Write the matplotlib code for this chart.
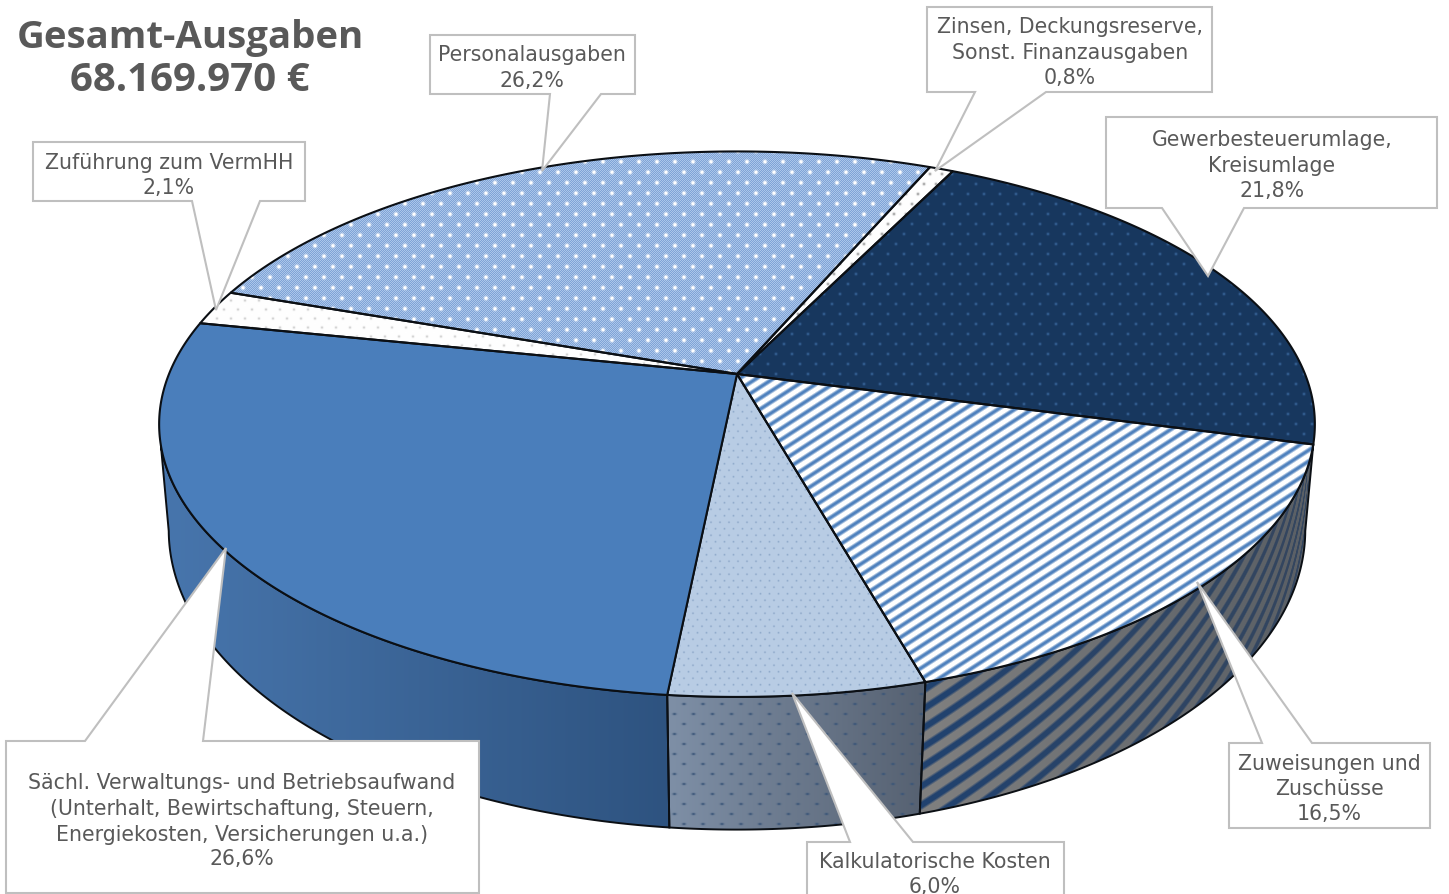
import numpy as np
import matplotlib
matplotlib.use("Agg")
import matplotlib.pyplot as plt
from matplotlib.patches import Polygon

# ---- data ----
title_lines = ["Gesamt-Ausgaben", "68.169.970 €"]
categories = ["Zinsen, Deckungsreserve,\nSonst. Finanzausgaben",
              "Gewerbesteuerumlage,\nKreisumlage",
              "Zuweisungen und\nZuschüsse",
              "Kalkulatorische Kosten",
              "Sächl. Verwaltungs- und Betriebsaufwand\n(Unterhalt, Bewirtschaftung, Steuern,\nEnergiekosten, Versicherungen u.a.)",
              "Zuführung zum VermHH",
              "Personalausgaben"]
shares = [0.8, 21.8, 16.5, 6.0, 26.6, 2.1, 26.2]
share_labels = ["0,8%", "21,8%", "16,5%", "6,0%", "26,6%", "2,1%", "26,2%"]

# ---- layout ----
W, H = 1449, 895
START = 66.6
TOP = dict(cx=737.0, cy=375.0, A=568.0, B=263.5, k=0.184)
BOT = dict(cx=737.0, cy=480.0, A=560.0, B=291.0, k=0.17)
EDGE = "#0b0f14"
GREY = "#BFBFBF"
TXT = "#595959"
# box (x0,y0,x1,y1), pointer base x0,x1, tip, text centre x, baselines
CALLOUTS = [
    ((927, 8, 1212, 93), (975, 1046), (935, 172), 1070, (33, 59, 84)),
    ((1106, 118, 1437, 209), (1162, 1244), (1208, 277), 1272, (146, 172, 197)),
    ((1229, 744, 1430, 829), (1262, 1312), (1197, 583), 1329, (770, 795, 820)),
    ((807, 843, 1064, 905), (850, 913), (792, 694), 935, (868, 893)),
    ((6, 742, 479, 894), (85, 203), (226, 549), 242, (789, 815, 841, 865)),
    ((33, 143, 305, 202), (192, 260), (216, 311), 169, (169, 194)),
    ((430, 36, 635, 95), (550, 601), (542, 172), 532, (61, 87)),
]

fig = plt.figure(figsize=(W / 100, H / 100), dpi=100, facecolor="white")
ax = fig.add_axes([0, 0, 1, 1])
ax.set_xlim(0, W)
ax.set_ylim(H, 0)
ax.axis("off")

# ---- geometry: a circle seen in perspective ----
def project(deg, p):
    t = np.radians(deg)
    X, Y = np.cos(t), np.sin(t)
    w = 1 + p["k"] * Y
    return np.column_stack([p["cx"] + p["A"] * X / w, p["cy"] - p["B"] * Y / w])

def arc(a0, a1, p, n=160):
    return project(np.linspace(a0, a1, n), p)

edges = START - np.cumsum([0] + [s * 3.6 for s in shares])

# ---- textures ----
PX, PY = np.meshgrid(np.arange(W) + 0.5, np.arange(H) + 0.5)

def rgb(c):
    return np.array(matplotlib.colors.to_rgb(c))

def flat(c):
    return np.ones((H, W, 3)) * rgb(c)

def mix(a, b, t):
    t = t[..., None]
    return a * (1 - t) + b * t

def dot_field(px, py, r, stretch=1.0):
    row = np.floor(PY / py)
    xo = PX + (row % 2) * px / 2
    dx = (xo + px / 2) % px - px / 2
    dy = (PY % py) - py / 2
    return np.exp(-((dx / stretch) ** 2 + dy ** 2) / (2 * r ** 2))

def dotted(base, dot, px, py, r, strength=1.0):
    return mix(flat(base), flat(dot), np.clip(dot_field(px, py, r) * strength, 0, 1))

def h_gradient(c0, c1, x0, x1):
    t = np.clip((PX - x0) / (x1 - x0), 0, 1)
    return mix(flat(c0), flat(c1), t)

def personal_tex():
    weave = ((np.floor(PX) + np.floor(PY)) % 2)
    b = mix(flat("#7FA3D6"), flat("#ABC6EA"), weave)
    return mix(b, flat("#FFFFFF"), np.clip(dot_field(18, 10.5, 1.3) * 1.4, 0, 1))

def stripes_top():
    ph = PX / 17.0 + PY / 11.0
    t = np.clip(((1 + np.cos(2 * np.pi * ph)) / 2) * 1.5 - 0.45, 0, 1)
    return mix(flat("#FFFFFF"), flat("#4F81BD"), t)

def stripes_wall():
    r = np.clip((PX - 736) / 572, -0.999, 0.999)
    u = 572 * np.arcsin(r)
    ytop = 425 + 272 * np.sqrt(np.clip(1 - ((PX - 736) / 578) ** 2, 0, 1))
    ph = u / 42 + (PY - ytop) / 19
    t = np.clip(((1 + np.cos(2 * np.pi * ph)) / 2) * 2.2 - 0.85, 0, 1)
    g = h_gradient("#7F7F7F", "#5B6066", 930, 1290)
    s = h_gradient("#21426F", "#34465F", 930, 1290)
    return mix(g, s, t)

def kalk_wall():
    g = h_gradient("#7E8FA6", "#566171", 670, 925)
    return mix(g, flat("#3A5578"), np.clip(dot_field(19, 10, 0.8, 1.7), 0, 1))

tops = [dotted("#FFFFFF", "#9A9A9A", 12, 10, 1.0),
        dotted("#17375E", "#3F6EA6", 16, 10, 1.0, 0.8),
        stripes_top(),
        dotted("#B9CDE5", "#86A2C4", 9, 6.5, 0.7, 0.8),
        None,
        dotted("#FFFFFF", "#CFCFCF", 14, 9, 0.9),
        personal_tex()]
top_solid = {4: "#4A7EBB"}

def paint(arr, poly):
    im = ax.imshow(np.clip(arr, 0, 1), extent=(0, W, H, 0), origin="upper",
                   interpolation="nearest", aspect="auto", zorder=poly.get_zorder() - 0.5)
    ax.add_patch(poly)
    im.set_clip_path(poly)

# ---- side walls (front part only); (top start, top end, bottom start, bottom end) ----
walls = [
    (edges[2], edges[3], -10.0, edges[3], stripes_wall()),
    (edges[3], edges[4], edges[3], edges[4], kalk_wall()),
    (edges[4], -165.0, edges[4], -170.0, h_gradient("#4775AC", "#2E5380", 170, 668)),
]
for a0, a1, b0, b1, tex in walls:
    pts = np.vstack([arc(a0, a1, TOP), arc(b1, b0, BOT)])
    paint(tex, Polygon(pts, closed=True, fill=False, edgecolor=EDGE, linewidth=1.4, zorder=2))

# ---- top face ----
apex = np.array([[TOP["cx"], TOP["cy"]]])
for i in range(len(shares)):
    pts = np.vstack([apex, arc(edges[i], edges[i + 1], TOP)])
    if tops[i] is None:
        ax.add_patch(Polygon(pts, closed=True, facecolor=top_solid[i], edgecolor=EDGE,
                             linewidth=1.5, zorder=4))
    else:
        paint(tops[i], Polygon(pts, closed=True, fill=False, edgecolor=EDGE, linewidth=1.5, zorder=4))

# ---- call-outs ----
FS = 14.8
for (box, base, tip, tx, bl), name, lab in zip(CALLOUTS, categories, share_labels):
    x0, y0, x1, y1 = box
    if tip[1] > y1:      # pointer leaves the bottom edge
        pts = [(x0, y0), (x1, y0), (x1, y1), (base[1], y1), tip, (base[0], y1), (x0, y1)]
    else:                # pointer leaves the top edge
        pts = [(x0, y0), (base[0], y0), tip, (base[1], y0), (x1, y0), (x1, y1), (x0, y1)]
    ax.add_patch(Polygon(pts, closed=True, facecolor="white", edgecolor=GREY,
                         linewidth=1.5, joinstyle="miter", zorder=6))
    for line, yb in zip(name.split("\n") + [lab], bl):
        ax.text(tx, yb, line, ha="center", va="baseline", color=TXT, fontsize=FS,
                family="DejaVu Sans", zorder=7)

# ---- title ----
for line, yb, fs in zip(title_lines, (48, 91), (27.6, 29)):
    ax.text(190, yb, line, ha="center", va="baseline", color=TXT, fontsize=fs,
            fontweight="bold", family="Open Sans", zorder=7)

fig.savefig("out.png", dpi=100, facecolor="white")
